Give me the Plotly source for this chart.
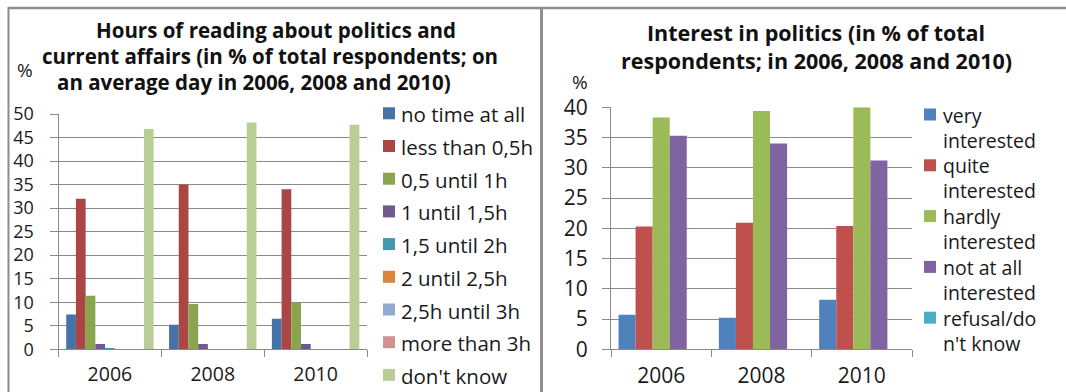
import plotly.graph_objects as go

W, H = 1066, 392

years = ["2006", "2008", "2010"]

# Hours of reading about politics and current affairs (% of respondents)
no_time_at_all = [7.4, 5.2, 6.5]
less_than_05h = [32.0, 35.0, 34.0]
h05_until_1h = [11.4, 9.6, 9.9]
h1_until_15h = [1.1, 1.1, 1.1]
h15_until_2h = [0.3, 0.0, 0.0]
h2_until_25h = [0.0, 0.0, 0.0]
h25_until_3h = [0.0, 0.0, 0.0]
more_than_3h = [0.0, 0.0, 0.0]
reading_dont_know = [46.8, 48.2, 47.7]

reading_names = ["no time at all", "less than 0,5h", "0,5 until 1h", "1 until 1,5h",
                 "1,5 until 2h", "2 until 2,5h", "2,5h until 3h", "more than 3h",
                 "don't know"]
reading_series = [no_time_at_all, less_than_05h, h05_until_1h, h1_until_15h,
                  h15_until_2h, h2_until_25h, h25_until_3h, more_than_3h,
                  reading_dont_know]
reading_colors = ["#4572A7", "#AA4643", "#89A54E", "#71588F", "#4198AF",
                  "#DB843D", "#93A9CF", "#D19392", "#B9CD96"]

# Interest in politics (% of respondents)
very_interested = [5.7, 5.2, 8.2]
quite_interested = [20.3, 20.9, 20.4]
hardly_interested = [38.3, 39.4, 40.0]
not_at_all_interested = [35.3, 34.0, 31.2]
refusal_dont_know = [0.0, 0.0, 0.0]

interest_names = ["very interested", "quite interested", "hardly interested",
                  "not at all interested", "refusal/don't know"]
# legend labels wrap onto two lines
interest_labels = ["very<br>interested", "quite<br>interested", "hardly<br>interested",
                   "not at all<br>interested", "refusal/do<br>n't know"]
interest_series = [very_interested, quite_interested, hardly_interested,
                   not_at_all_interested, refusal_dont_know]
interest_colors = ["#4F81BD", "#C0504D", "#9BBB59", "#8064A2", "#4BACC6"]

FONT = "Open Sans"
GRID = "#8a8a8a"
TXT = "#1a1a1a"


def px_x(p):
    return p / W


def px_y(p):
    return 1 - p / H


fig = go.Figure()

for name, vals, col in zip(reading_names, reading_series, reading_colors):
    fig.add_trace(go.Bar(x=years, y=vals, name=name, marker_color=col,
                         marker_line_width=0, xaxis="x", yaxis="y"))

for name, vals, col in zip(interest_names, interest_series, interest_colors):
    fig.add_trace(go.Bar(x=years, y=vals, name=name, marker_color=col,
                         marker_line_width=0, xaxis="x2", yaxis="y2"))


def x_axis(domain, anchor, size):
    return dict(domain=domain, anchor=anchor, showgrid=False, showline=True,
                linecolor=GRID, linewidth=1, ticks="outside", tickcolor=GRID,
                ticklen=7, tickson="boundaries", ticklabelstandoff=7,
                automargin=False,
                tickfont=dict(family=FONT, size=size, color=TXT), fixedrange=True)


def y_axis(domain, anchor, rng, size, standoff):
    return dict(domain=domain, anchor=anchor, range=rng, dtick=5,
                showgrid=True, gridcolor=GRID, gridwidth=1,
                showline=True, linecolor=GRID, linewidth=1,
                ticks="outside", tickcolor=GRID, ticklen=8,
                ticklabelstandoff=standoff, automargin=False,
                tickfont=dict(family=FONT, size=size, color=TXT),
                zeroline=False, fixedrange=True)


fig.update_layout(
    width=W, height=H, autosize=False,
    margin=dict(l=0, r=0, t=0, b=0, pad=0, autoexpand=False),
    paper_bgcolor="white", plot_bgcolor="white",
    barmode="group", bargap=0.15, bargroupgap=0,
    showlegend=False,
    xaxis=x_axis([px_x(58.5), px_x(367)], "y", 19.5),
    yaxis=y_axis([px_y(349.3), px_y(114)], "x", [0, 50], 18, 12),
    xaxis2=x_axis([px_x(611), px_x(912)], "y2", 21),
    yaxis2=y_axis([px_y(349.3), px_y(107.3)], "x2", [0, 40], 21, 10),
)

# Chart titles
titles = [
    ("<b>Hours of reading about politics and</b>", 276, 30, 20.5),
    ("<b>current affairs (in % of total respondents; on</b>", 270, 56, 20.5),
    ("<b>an average day in 2006, 2008 and 2010)</b>", 254, 82, 20.5),
    ("<b>Interest in politics (in % of total</b>", 816, 33, 21.5),
    ("<b>respondents; in 2006, 2008 and 2010)</b>", 816, 60, 21.5),
]
for text, cx, cy, fs in titles:
    fig.add_annotation(text=text, x=px_x(cx), y=px_y(cy), xref="paper", yref="paper",
                       xanchor="center", yanchor="middle", showarrow=False,
                       font=dict(family=FONT, size=fs, color="#111111"))

# Unit labels above the value axes
for cx, cy in [(25, 70), (580, 82)]:
    fig.add_annotation(text="%", x=px_x(cx), y=px_y(cy), xref="paper", yref="paper",
                       xanchor="center", yanchor="middle", showarrow=False,
                       font=dict(family=FONT, size=19, color=TXT))


# Legends: colour swatch plus label
def swatch(x0, yc, color, size=12):
    fig.add_shape(type="rect", xref="paper", yref="paper",
                  x0=px_x(x0), x1=px_x(x0 + size),
                  y0=px_y(yc + size / 2), y1=px_y(yc - size / 2),
                  fillcolor=color, line=dict(width=0))


def label(text, x0, yc, size):
    fig.add_annotation(text=text, x=px_x(x0), y=px_y(yc), xref="paper", yref="paper",
                       xanchor="left", yanchor="middle", align="left", showarrow=False,
                       borderpad=0, font=dict(family=FONT, size=size, color=TXT))


for i, (name, col) in enumerate(zip(reading_names, reading_colors)):
    yc = 113.3 + i * 32.7
    swatch(383, yc, col)
    label(name, 400, yc + 1, 20.5)

for i, (text, col) in enumerate(zip(interest_labels, interest_colors)):
    yc = 114.5 + i * 50.8
    swatch(924, yc, col)
    label(text, 942, yc + 13, 19.5)

# Panel frames
BORDER = "#8e8e8e"
fig.add_shape(type="line", xref="paper", yref="paper", x0=px_x(8), x1=1,
              y0=px_y(8), y1=px_y(8), line=dict(color=BORDER, width=2.5))
fig.add_shape(type="line", xref="paper", yref="paper", x0=px_x(8.5), x1=px_x(8.5),
              y0=px_y(7), y1=0, line=dict(color=BORDER, width=2))
fig.add_shape(type="line", xref="paper", yref="paper", x0=px_x(541.5), x1=px_x(541.5),
              y0=px_y(7), y1=0, line=dict(color=BORDER, width=3))

fig.write_html("out.html")
